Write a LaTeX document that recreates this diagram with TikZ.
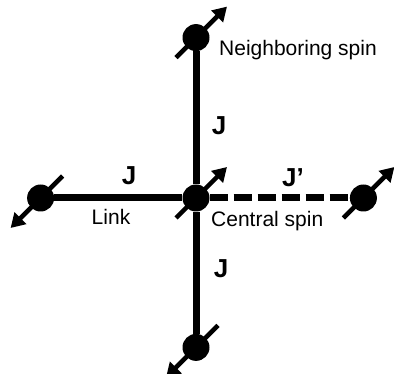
\documentclass[tikz,border=0pt]{standalone}
\usepackage{fontspec}
\setmainfont{Liberation Sans}
\usetikzlibrary{positioning, arrows.meta}

\begin{document}
\begin{tikzpicture}[x=1pt, y=1pt,
  spin/.style={circle, fill=black, minimum size=27pt, inner sep=0pt},
  bond/.style={line width=7pt},
  weak/.style={bond, dash pattern=on 18pt off 6pt},
  sarrow/.style={line width=4.5pt, -{Triangle[length=14pt, width=16pt]}},
  lbl/.style={font=\fontsize{21}{25}\selectfont, inner sep=0pt},
  cpl/.style={font=\bfseries\fontsize{26}{30}\selectfont, inner sep=0pt}]
\useasboundingbox (0,0) rectangle (394,374);
% spins
\node[spin] (cs) at (196,176) {};
\node[spin, above=133pt of cs] (ns) {};
\node[spin, below=122pt of cs] (bs) {};
\node[spin, left=128pt of cs] (ls) {};
\node[spin, right=140pt of cs] (rs) {};
% links
\draw[bond] (ns) -- (cs);
\draw[bond] (cs) -- (bs);
\draw[bond] (ls) -- (cs);
\draw[weak] (cs) -- (rs);
% spin directions
\foreach \s in {ns, cs, rs}
  \draw[sarrow] ([shift={(-20,-20)}]\s.center) -- ++(51,51);
\foreach \s in {ls, bs}
  \draw[sarrow] ([shift={(22,22)}]\s.center) -- ++(-52,-52);
% labels
\node[lbl, anchor=base west] (nl) at (219,318) {Neighboring spin};
\node[lbl, anchor=base west] (cl) at (211,147) {Central spin};
\node[lbl, anchor=base] (lk) at (111,149) {Link};
\node[cpl] (j1) at (219,248) {J};
\node[cpl] (j2) at (129,198) {J};
\node[cpl] (j3) at (293,196) {J'};
\node[cpl] (j4) at (221,105) {J};
\end{tikzpicture}
\end{document}
